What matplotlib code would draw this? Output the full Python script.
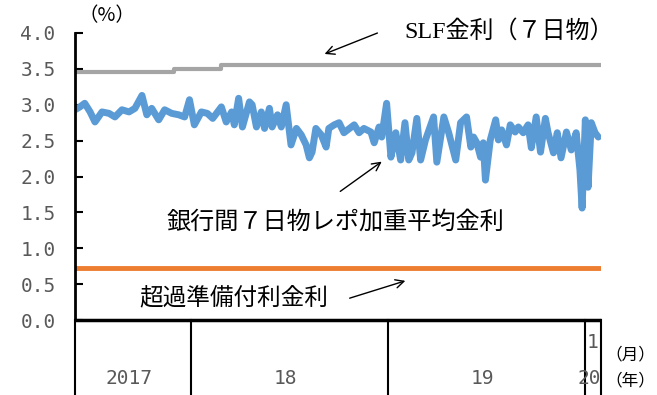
import matplotlib
matplotlib.use("Agg")
import matplotlib.pyplot as plt
import matplotlib.dates as mdates
import pandas as pd

# 銀行間7日物レポ加重平均金利（%）
repo_dates = [
    "2017-06-01", "2017-06-10", "2017-06-19", "2017-06-29", "2017-07-08", "2017-07-21",
    "2017-08-03", "2017-08-14", "2017-08-27", "2017-09-09", "2017-09-20", "2017-10-03",
    "2017-10-12", "2017-10-21", "2017-11-03", "2017-11-14", "2017-11-27", "2017-12-10",
    "2017-12-21", "2017-12-30", "2018-01-08", "2018-01-21", "2018-02-01", "2018-02-11",
    "2018-02-27", "2018-03-08", "2018-03-18", "2018-03-23", "2018-03-31", "2018-04-07",
    "2018-04-20", "2018-04-25", "2018-05-03", "2018-05-12", "2018-05-18", "2018-05-27",
    "2018-06-01", "2018-06-11", "2018-06-18", "2018-06-27", "2018-07-06", "2018-07-16",
    "2018-07-25", "2018-08-03", "2018-08-09", "2018-08-14", "2018-08-21", "2018-08-31",
    "2018-09-09", "2018-09-14", "2018-09-24", "2018-10-03", "2018-10-12", "2018-10-31",
    "2018-11-09", "2018-11-18", "2018-12-01", "2018-12-07", "2018-12-16", "2018-12-21",
    "2018-12-30", "2019-01-07", "2019-01-16", "2019-01-25", "2019-02-02", "2019-02-09",
    "2019-02-15", "2019-02-24", "2019-03-03", "2019-03-12", "2019-03-27", "2019-04-02",
    "2019-04-15", "2019-04-24", "2019-05-07", "2019-05-16", "2019-05-27", "2019-06-04",
    "2019-06-09", "2019-06-15", "2019-06-22", "2019-06-27", "2019-07-01", "2019-07-10",
    "2019-07-20", "2019-07-25", "2019-07-31", "2019-08-09", "2019-08-16", "2019-08-25",
    "2019-08-31", "2019-09-09", "2019-09-18", "2019-09-24", "2019-10-03", "2019-10-11",
    "2019-10-20", "2019-10-25", "2019-11-04", "2019-11-11", "2019-11-18", "2019-11-28",
    "2019-12-07", "2019-12-16", "2019-12-23", "2019-12-27", "2020-01-02", "2020-01-07",
    "2020-01-13", "2020-01-20", "2020-01-26",
]
repo_rate = [
    2.93, 2.97, 3.02, 2.90, 2.76, 2.90,
    2.88, 2.83, 2.93, 2.90, 2.95, 3.13,
    2.86, 2.95, 2.79, 2.93, 2.88, 2.86,
    2.83, 3.07, 2.72, 2.90, 2.88, 2.81,
    2.97, 2.76, 2.90, 2.72, 3.09, 2.69,
    3.04, 3.00, 2.69, 2.90, 2.67, 2.95,
    2.69, 2.86, 2.69, 3.00, 2.44, 2.67,
    2.58, 2.44, 2.26, 2.34, 2.67, 2.58,
    2.41, 2.67, 2.72, 2.75, 2.61, 2.72,
    2.61, 2.67, 2.62, 2.47, 2.69, 2.55,
    3.02, 2.27, 2.61, 2.23, 2.75, 2.23,
    2.33, 2.81, 2.23, 2.51, 2.83, 2.20,
    2.83, 2.61, 2.23, 2.75, 2.83, 2.41,
    2.55, 2.47, 2.27, 2.47, 1.95, 2.51,
    2.79, 2.51, 2.65, 2.44, 2.72, 2.62,
    2.69, 2.61, 2.72, 2.40, 2.83, 2.34,
    2.81, 2.61, 2.33, 2.61, 2.26, 2.62,
    2.37, 2.61, 2.09, 1.56, 2.79, 1.85,
    2.75, 2.61, 2.55,
]

# SLF金利（7日物）
slf_dates = ["2017-06-01", "2017-12-02", "2018-02-27", "2020-01-31"]
slf_rate = [3.45, 3.50, 3.55, 3.55]

# 超過準備付利金利
ioer_rate = 0.72

start, end = pd.Timestamp("2017-06-01"), pd.Timestamp("2020-01-31")
year_bounds = ["2017-06-01", "2018-01-01", "2019-01-01", "2020-01-01", "2020-01-31"]
year_labels = ["2017", "18", "19", "20"]

grey = "#595959"
jp = ["Noto Sans CJK JP", "DejaVu Sans"]

fig = plt.figure(figsize=(6.57, 3.95), dpi=100)
ax = fig.add_axes([75 / 657, 75 / 395, 526 / 657, 287 / 395])

ax.plot(pd.to_datetime(slf_dates), slf_rate, color="#A5A5A5", lw=3,
        drawstyle="steps-post", solid_capstyle="round")
ax.plot(pd.to_datetime(repo_dates), repo_rate, color="#5B9BD5", lw=5,
        solid_joinstyle="round", solid_capstyle="round")
ax.plot([start, end], [ioer_rate, ioer_rate], color="#ED7D31", lw=3.5)

ax.set_xlim(start, end)
ax.set_ylim(0, 4)
ax.set_yticks([0, 0.5, 1, 1.5, 2, 2.5, 3, 3.5, 4])
ax.set_yticklabels([f"{v:.1f}" for v in ax.get_yticks()],
                   family="DejaVu Sans Mono", fontsize=14, color=grey)
ax.tick_params(axis="y", direction="in", length=6, width=1.5, pad=14)
ax.set_xticks([])

for s in ["top", "right", "bottom"]:
    ax.spines[s].set_visible(False)
ax.spines["left"].set_linewidth(2)

# 年の区切り線（軸の下側）
trans = ax.get_xaxis_transform()
ax.plot([start, end], [0, 0], color="black", lw=2.5, transform=trans,
        clip_on=False, solid_capstyle="butt")
bounds = mdates.date2num(pd.to_datetime(year_bounds))
for b in bounds:
    ax.plot([b, b], [0, -0.26], color="black", lw=1.5,
            transform=trans, clip_on=False)

for i, lab in enumerate(year_labels):
    mid = (bounds[i] + bounds[i + 1]) / 2
    ax.annotate(lab, (mid, -0.205), xycoords=trans, xytext=(-4, 0),
                textcoords="offset pixels", ha="center", va="center",
                family="DejaVu Sans Mono", fontsize=14, color=grey)
jan_mid = (bounds[3] + bounds[4]) / 2
ax.text(jan_mid, -0.08, "1", transform=trans, ha="center", va="center",
        family="DejaVu Sans Mono", fontsize=14, color=grey)

fig.text(605 / 657, 1 - 355 / 395, "（月）", family=jp, fontsize=12, va="center")
fig.text(605 / 657, 1 - 381 / 395, "（年）", family=jp, fontsize=12, va="center")
fig.text(78 / 657, 1 - 16 / 395, "（%）", family=jp, fontsize=14, va="center")

# 系列名と矢印
fig.text(404 / 657, 1 - 31 / 395, "SLF金利（７日物）",
         family=["Liberation Serif", "Noto Sans CJK JP"], fontsize=17.3, va="center")
fig.text(166 / 657, 1 - 222 / 395, "銀行間７日物レポ加重平均金利",
         family=jp, fontsize=17.4, va="center")
fig.text(139 / 657, 1 - 298 / 395, "超過準備付利金利",
         family=jp, fontsize=17, va="center")

arrows = [((380, 32), (322, 55)), ((338, 193), (384, 160)), ((347, 299), (408, 280))]
for tail, head in arrows:
    fig.add_artist(matplotlib.patches.FancyArrowPatch(
        (tail[0] / 657, 1 - tail[1] / 395), (head[0] / 657, 1 - head[1] / 395),
        transform=fig.transFigure, arrowstyle="->,head_length=6,head_width=3",
        color="black", lw=1))

fig.savefig("out.png", dpi=100)
